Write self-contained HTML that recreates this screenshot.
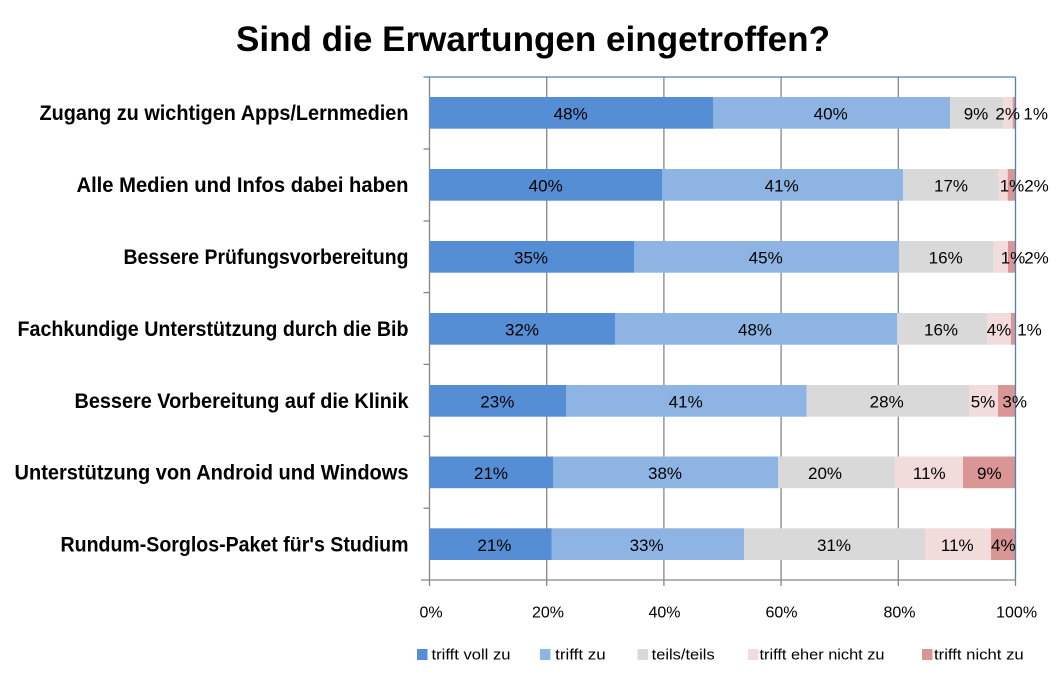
<!DOCTYPE html>
<html><head><meta charset="utf-8"><style>
html,body{margin:0;padding:0;background:#fff;}
svg{display:block;}
text{font-family:"Liberation Sans",Arial,sans-serif;fill:#000;}
</style></head><body>
<svg width="1058" height="678" viewBox="0 0 1058 678" xmlns="http://www.w3.org/2000/svg">
<rect width="1058" height="678" fill="#fff"/>
<!-- title -->
<text x="236" y="51" font-size="35" font-weight="bold" textLength="594" lengthAdjust="spacingAndGlyphs">Sind die Erwartungen eingetroffen?</text>

<!-- gridlines -->
<g stroke="#868686" stroke-width="1.3">
<line x1="546.7" y1="77" x2="546.7" y2="586"/>
<line x1="663.9" y1="77" x2="663.9" y2="586"/>
<line x1="781.1" y1="77" x2="781.1" y2="586"/>
<line x1="898.3" y1="77" x2="898.3" y2="586"/>
<line x1="429.5" y1="77" x2="429.5" y2="586"/>
<line x1="1015.5" y1="580" x2="1015.5" y2="586"/>
<line x1="421" y1="580" x2="1015.5" y2="580"/>
<line x1="423.5" y1="149" x2="429.5" y2="149"/>
<line x1="423.5" y1="221" x2="429.5" y2="221"/>
<line x1="423.5" y1="292.6" x2="429.5" y2="292.6"/>
<line x1="423.5" y1="364.4" x2="429.5" y2="364.4"/>
<line x1="423.5" y1="436.3" x2="429.5" y2="436.3"/>
<line x1="423.5" y1="508.2" x2="429.5" y2="508.2"/>
</g>

<!-- bars -->
<g>
<!-- row1 -->
<rect x="429.5" y="97" width="283.5" height="31.7" fill="#558ED5"/>
<rect x="713" y="97" width="237" height="31.7" fill="#8EB4E3"/>
<rect x="950" y="97" width="53.3" height="31.7" fill="#D9D9D9"/>
<rect x="1003.3" y="97" width="9.4" height="31.7" fill="#F2DCDB"/>
<rect x="1012.7" y="97" width="2.8" height="31.7" fill="#D99694"/>
<!-- row2 -->
<rect x="429.5" y="169" width="232.5" height="31.7" fill="#558ED5"/>
<rect x="662" y="169" width="241" height="31.7" fill="#8EB4E3"/>
<rect x="903" y="169" width="95.7" height="31.7" fill="#D9D9D9"/>
<rect x="998.7" y="169" width="9" height="31.7" fill="#F2DCDB"/>
<rect x="1007.7" y="169" width="7.8" height="31.7" fill="#D99694"/>
<!-- row3 -->
<rect x="429.5" y="241" width="204.5" height="31.7" fill="#558ED5"/>
<rect x="634" y="241" width="265" height="31.7" fill="#8EB4E3"/>
<rect x="899" y="241" width="94.7" height="31.7" fill="#D9D9D9"/>
<rect x="993.7" y="241" width="14.3" height="31.7" fill="#F2DCDB"/>
<rect x="1008" y="241" width="7.5" height="31.7" fill="#D99694"/>
<!-- row4 -->
<rect x="429.5" y="313" width="185.5" height="31.7" fill="#558ED5"/>
<rect x="615" y="313" width="282" height="31.7" fill="#8EB4E3"/>
<rect x="897" y="313" width="90" height="31.7" fill="#D9D9D9"/>
<rect x="987" y="313" width="24" height="31.7" fill="#F2DCDB"/>
<rect x="1011" y="313" width="4.5" height="31.7" fill="#D99694"/>
<!-- row5 -->
<rect x="429.5" y="385" width="136.5" height="31.7" fill="#558ED5"/>
<rect x="566" y="385" width="240.7" height="31.7" fill="#8EB4E3"/>
<rect x="806.7" y="385" width="162.3" height="31.7" fill="#D9D9D9"/>
<rect x="969" y="385" width="29" height="31.7" fill="#F2DCDB"/>
<rect x="998" y="385" width="17.5" height="31.7" fill="#D99694"/>
<!-- row6 -->
<rect x="429.5" y="456.5" width="123.5" height="31.7" fill="#558ED5"/>
<rect x="553" y="456.5" width="225" height="31.7" fill="#8EB4E3"/>
<rect x="778" y="456.5" width="117" height="31.7" fill="#D9D9D9"/>
<rect x="895" y="456.5" width="68" height="31.7" fill="#F2DCDB"/>
<rect x="963" y="456.5" width="52.5" height="31.7" fill="#D99694"/>
<!-- row7 -->
<rect x="429.5" y="528.3" width="122.3" height="31.7" fill="#558ED5"/>
<rect x="551.8" y="528.3" width="192.2" height="31.7" fill="#8EB4E3"/>
<rect x="744" y="528.3" width="181" height="31.7" fill="#D9D9D9"/>
<rect x="925" y="528.3" width="66" height="31.7" fill="#F2DCDB"/>
<rect x="991" y="528.3" width="24.5" height="31.7" fill="#D99694"/>
</g>

<!-- plot border top/right -->
<g stroke="#4F81BD" stroke-width="1.3">
<line x1="423.5" y1="77" x2="1015.5" y2="77"/>
<line x1="1015.5" y1="77" x2="1015.5" y2="580"/>
</g>

<!-- data labels -->
<g font-size="17" text-anchor="middle">
<text x="570.7" y="119.5">48%</text><text x="830.7" y="119.5">40%</text><text x="976" y="119.5">9%</text><text x="1007.7" y="119.5">2%</text><text x="1035.7" y="119.5">1%</text>
<text x="545.7" y="191.5">40%</text><text x="781.7" y="191.5">41%</text><text x="951" y="191.5">17%</text><text x="1012" y="191.5">1%</text><text x="1036.5" y="191.5">2%</text>
<text x="531" y="263.5">35%</text><text x="765.7" y="263.5">45%</text><text x="945.7" y="263.5">16%</text><text x="1013" y="263.5">1%</text><text x="1036.5" y="263.5">2%</text>
<text x="522" y="335.5">32%</text><text x="755" y="335.5">48%</text><text x="941" y="335.5">16%</text><text x="999" y="335.5">4%</text><text x="1029.5" y="335.5">1%</text>
<text x="497.3" y="407.5">23%</text><text x="685.7" y="407.5">41%</text><text x="886.7" y="407.5">28%</text><text x="983" y="407.5">5%</text><text x="1014.7" y="407.5">3%</text>
<text x="491" y="479">21%</text><text x="665" y="479">38%</text><text x="825" y="479">20%</text><text x="929.3" y="479">11%</text><text x="989.3" y="479">9%</text>
<text x="494.4" y="550.8">21%</text><text x="646.6" y="550.8">33%</text><text x="834" y="550.8">31%</text><text x="957.3" y="550.8">11%</text><text x="1003.3" y="550.8">4%</text>
</g>

<!-- category labels -->
<g font-size="21" font-weight="bold" text-anchor="end">
<text x="408.5" y="120" textLength="369" lengthAdjust="spacingAndGlyphs">Zugang zu wichtigen Apps/Lernmedien</text>
<text x="408.5" y="192" textLength="332" lengthAdjust="spacingAndGlyphs">Alle Medien und Infos dabei haben</text>
<text x="408.5" y="264" textLength="285" lengthAdjust="spacingAndGlyphs">Bessere Prüfungsvorbereitung</text>
<text x="408.5" y="336" textLength="391" lengthAdjust="spacingAndGlyphs">Fachkundige Unterstützung durch die Bib</text>
<text x="408.5" y="408" textLength="334" lengthAdjust="spacingAndGlyphs">Bessere Vorbereitung auf die Klinik</text>
<text x="408.5" y="479.5" textLength="394" lengthAdjust="spacingAndGlyphs">Unterstützung von Android und Windows</text>
<text x="408.5" y="551.5" textLength="348" lengthAdjust="spacingAndGlyphs">Rundum-Sorglos-Paket für's Studium</text>
</g>

<!-- tick labels -->
<g font-size="16" text-anchor="middle">
<text x="431" y="617.5">0%</text>
<text x="548" y="617.5">20%</text>
<text x="664.5" y="617.5">40%</text>
<text x="781.5" y="617.5">60%</text>
<text x="899.5" y="617.5">80%</text>
<text x="1016.6" y="617.5">100%</text>
</g>

<!-- legend -->
<g font-size="14.5">
<rect x="417" y="649" width="10.5" height="11" fill="#558ED5"/>
<text x="431.5" y="659.3" textLength="79" lengthAdjust="spacingAndGlyphs">trifft voll zu</text>
<rect x="540" y="649" width="10.5" height="11" fill="#8EB4E3"/>
<text x="555.2" y="659.3" textLength="50.5" lengthAdjust="spacingAndGlyphs">trifft zu</text>
<rect x="637.5" y="649" width="10.5" height="11" fill="#D9D9D9"/>
<text x="651.7" y="659.3" textLength="63" lengthAdjust="spacingAndGlyphs">teils/teils</text>
<rect x="748" y="649" width="10.5" height="11" fill="#F2DCDB"/>
<text x="759.5" y="659.3" textLength="125" lengthAdjust="spacingAndGlyphs">trifft eher nicht zu</text>
<rect x="922" y="649" width="10.5" height="11" fill="#D99694"/>
<text x="934" y="659.3" textLength="89.7" lengthAdjust="spacingAndGlyphs">trifft nicht zu</text>
</g>
</svg>
</body></html>
